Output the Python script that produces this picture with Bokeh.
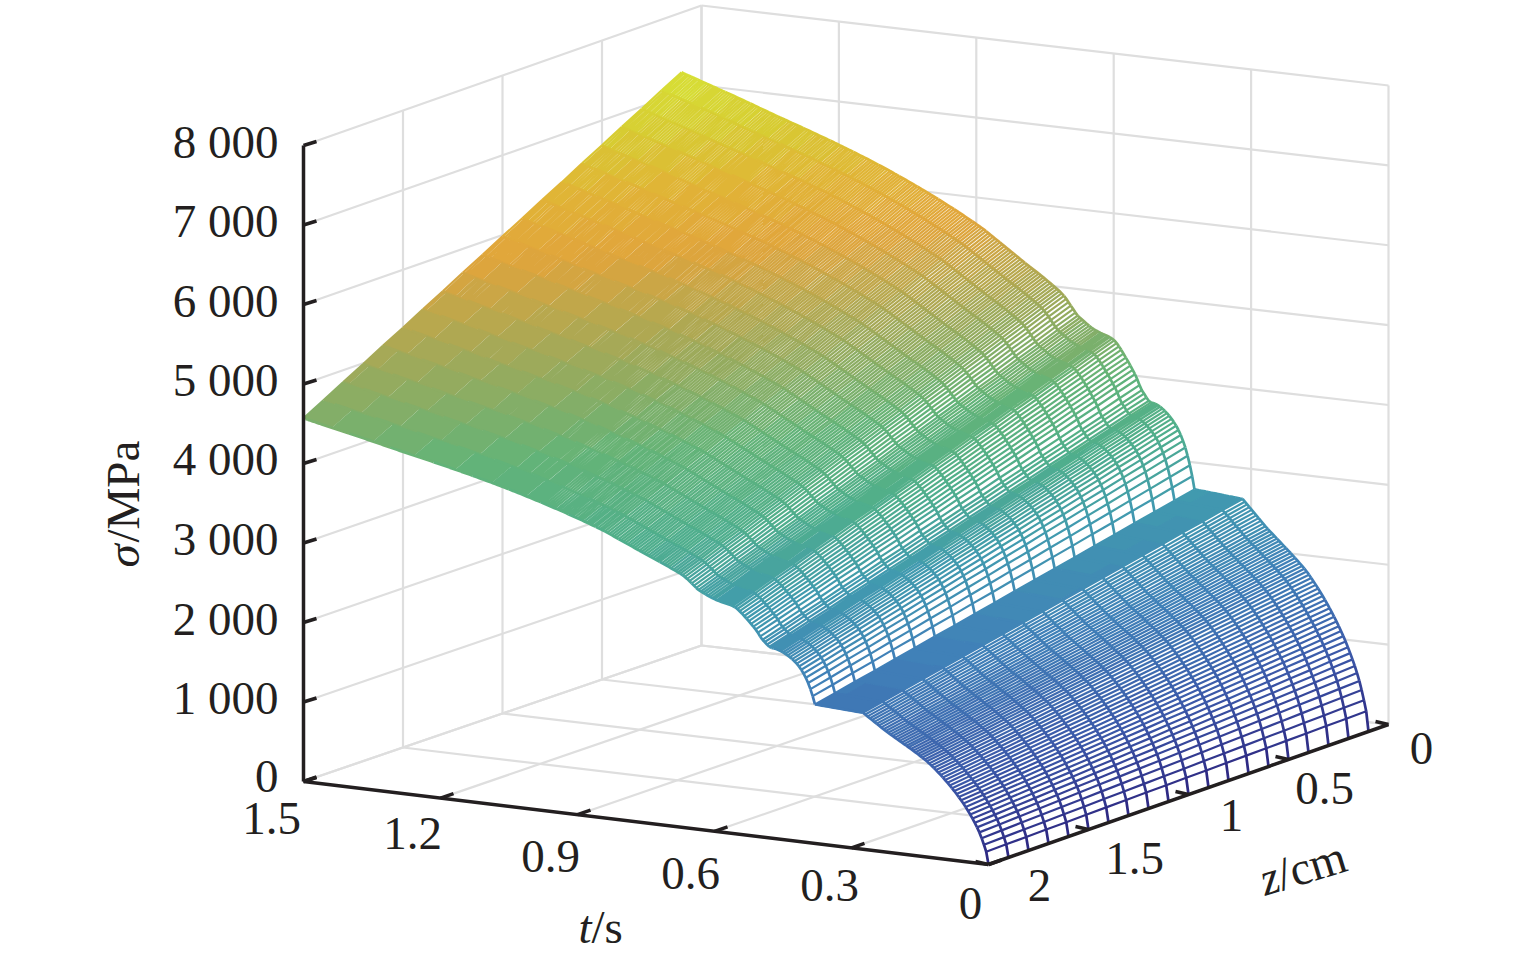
import numpy as np
from bokeh.plotting import figure
from bokeh.models import Range1d, ColumnDataSource
from bokeh.core.properties import value
from bokeh.embed import file_html
from bokeh.resources import INLINE

# ---- data ----
t_step = 0.005
z_values = [0.1,0.2,0.3,0.4,0.5,0.6,0.7,0.8,0.9,1.0,1.1,1.2,1.3,1.4,1.5,1.6,1.7,1.8,1.9,2.0]
# share of the z=0.1 stress that each depth carries
z_share = [1.000,.981,.961,.942,.922,.903,.883,.864,.844,.825,.805,.786,.766,.747,.727,.708,.688,.669,.649,.630]
# stress at z=0.1 cm for every time row
sigma_surface = [
0,250,385,510,620,715,800,880,955,1025,1095,1158,1218,1276,1332,1386,1438,1488,1537,1584,
1630,1675,1718,1760,1800,1840,1878,1914,1946,1977,2007,2037,2066,2094,2122,2149,2175,2202,2229,2256,
2283,2310,2337,2364,2391,2420,2451,2482,2513,2544,2575,2606,2637,2668,2699,2730,2732,2735,2737,2739,
2742,2744,2747,2749,2752,2754,2756,2759,2761,2763,2766,2768,2771,2773,2775,2778,2780,2940,3075,3190,
3290,3370,3440,3500,3550,3592,3630,3664,3694,3720,3744,3764,3780,3792,3800,3805,3822,3860,3905,3945,
4005,4075,4135,4185,4235,4285,4330,4375,4420,4460,4498,4528,4548,4562,4573,4583,4592,4602,4613,4625,
4640,4656,4674,4695,4718,4740,4762,4785,4820,4860,4900,4940,4978,5012,5040,5066,5088,5110,5131,5152,
5173,5194,5214,5234,5254,5273,5292,5310,5328,5348,5368,5388,5408,5428,5448,5468,5488,5508,5528,5548,
5568,5588,5608,5628,5648,5668,5688,5708,5728,5745,5762,5778,5795,5811,5827,5843,5859,5875,5891,5906,
5922,5937,5952,5967,5982,5997,6012,6026,6041,6055,6069,6083,6097,6111,6125,6139,6152,6166,6179,6193,
6206,6219,6232,6245,6258,6271,6284,6296,6309,6321,6334,6346,6358,6370,6382,6394,6406,6418,6429,6441,
6452,6463,6474,6485,6496,6507,6518,6529,6539,6550,6561,6571,6582,6592,6603,6613,6623,6634,6644,6654,
6664,6674,6684,6694,6704,6714,6724,6734,6744,6753,6763,6773,6782,6792,6802,6811,6821,6830,6840,6850,
6860,6870,6880,6891,6901,6911,6921,6932,6942,6952,6962,6972,6982,6992,7002,7012,7022,7032,7042,7051,
7060,7070,7079,7089,7098,7108,7117,7127,7137,7146,7156,7165,7175,7185,7194,7204,7213,7223,7232,7242,
7252]
sigma_ticks = [0,1000,2000,3000,4000,5000,6000,7000,8000]
sigma_labels = ["0","1 000","2 000","3 000","4 000","5 000","6 000","7 000","8 000"]
t_ticks = [0,0.3,0.6,0.9,1.2,1.5]
t_labels = ["0","0.3","0.6","0.9","1.2","1.5"]
z_ticks = [0,0.5,1,1.5,2]
z_labels = ["0","0.5","1","1.5","2"]

# ---- colour map ----
cmap_sigma = [0,1000,2000,2800,3500,4200,5000,5800,6300,6800,7300]
cmap_r = [46,60,65,65,80,100,160,225,225,215,215]
cmap_g = [40,90,130,155,175,180,170,165,180,205,228]
cmap_b = [130,170,185,175,140,120,90,60,55,50,55]
levels = 64
sigma_max = 7300.0
def level_of(s):
    return np.clip((np.asarray(s) / sigma_max * levels).astype(int), 0, levels - 1)
def level_colour(k):
    s = (k + 0.5) / levels * sigma_max
    return "#%02x%02x%02x" % (int(np.interp(s, cmap_sigma, cmap_r)),
                              int(np.interp(s, cmap_sigma, cmap_g)),
                              int(np.interp(s, cmap_sigma, cmap_b)))

# ---- 3-D view: corners of the box on the page ----
C = {"t0z2": (988, 864, 635), "t15z2": (303, 781, 636),
     "t0z0": (1388, 724, 639), "t15z0": (701, 645, 640)}
def project(t, z, s):
    t = np.asarray(t, float); z = np.asarray(z, float); s = np.asarray(s, float)
    a = t / 1.5; b = z / 2.0
    def blend(k):
        return ((1-a)*(1-b)*C["t0z0"][k] + a*(1-b)*C["t15z0"][k]
                + (1-a)*b*C["t0z2"][k] + a*b*C["t15z2"][k])
    return blend(0), blend(1) - s / 8000.0 * blend(2)

p = figure(width=1530, height=960, x_range=Range1d(0, 1530), y_range=Range1d(960, 0),
           output_backend="svg", toolbar_location=None, min_border=0,
           background_fill_color="white", border_fill_color="white", outline_line_color=None)
p.axis.visible = False
p.grid.visible = False

# ---- walls and floor ----
gx, gy = [], []
def seg(t0, z0, s0, t1, z1, s1):
    x, y = project([t0, t1], [z0, z1], [s0, s1])
    gx.append(list(x)); gy.append(list(y))
for s in sigma_ticks:
    seg(1.5, 2, s, 1.5, 0, s)
    seg(1.5, 0, s, 0, 0, s)
for t in t_ticks:
    seg(t, 0, 0, t, 0, 8000)
    seg(t, 0, 0, t, 2, 0)
for z in z_ticks:
    seg(1.5, z, 0, 1.5, z, 8000)
    seg(0, z, 0, 1.5, z, 0)
p.multi_line(gx, gy, line_color="#dedede", line_width=2.2)

# ---- surface ----
S = np.asarray(sigma_surface, float)
T = np.arange(len(S)) * t_step
Z = np.asarray(z_values)
share = np.asarray(z_share)
grid_s = np.outer(S, share)
grid_t = np.repeat(T[:, None], len(Z), axis=1)
grid_z = np.repeat(Z[None, :], len(T), axis=0)
PX, PY = project(grid_t, grid_z, grid_s)

ox = np.concatenate([PX[:, -1], PX[-1, ::-1], PX[::-1, 0], PX[0, :]])
oy = np.concatenate([PY[:, -1], PY[-1, ::-1], PY[::-1, 0], PY[0, :]])
p.patch(list(ox), list(oy), fill_color="white", line_color=None)

row_lv = level_of((grid_s[:, :-1] + grid_s[:, 1:]) / 2)
col_lv = level_of((grid_s[:-1, :] + grid_s[1:, :]) / 2)
row_w, col_w = 2.2, 2.7
xs, ys, cs, ws = [], [], [], []
def group(mask_i, mask_j, x0, y0, x1, y1):
    n = len(mask_i)
    out_x = np.empty(n * 3); out_y = np.empty(n * 3)
    out_x[0::3] = x0[mask_i, mask_j]; out_x[1::3] = x1[mask_i, mask_j]; out_x[2::3] = np.nan
    out_y[0::3] = y0[mask_i, mask_j]; out_y[1::3] = y1[mask_i, mask_j]; out_y[2::3] = np.nan
    return out_x[:-1], out_y[:-1]
for k in range(levels - 1, -1, -1):
    i, j = np.nonzero(row_lv == k)
    if len(i):
        a, b = group(i, j, PX[:, :-1], PY[:, :-1], PX[:, 1:], PY[:, 1:])
        xs.append(a); ys.append(b); cs.append(level_colour(k)); ws.append(row_w)
    i, j = np.nonzero(col_lv == k)
    if len(i):
        a, b = group(i, j, PX[:-1, :], PY[:-1, :], PX[1:, :], PY[1:, :])
        xs.append(a); ys.append(b); cs.append(level_colour(k)); ws.append(col_w)
src = ColumnDataSource(dict(xs=xs, ys=ys, c=cs, w=ws))
p.multi_line("xs", "ys", source=src, line_color="c", line_width="w", line_cap="butt")

# ---- axes ----
INK = "#231f20"
ax, ay = [], []
def axis_seg(t0, z0, s0, t1, z1, s1):
    x, y = project([t0, t1], [z0, z1], [s0, s1])
    ax.append(list(x)); ay.append(list(y))
axis_seg(1.5, 2, 0, 1.5, 2, 8000)
axis_seg(1.5, 2, 0, 0, 2, 0)
axis_seg(0, 2, 0, 0, 0, 0)
for s in sigma_ticks:
    x, y = project(1.5, 2, s)
    ax.append([float(x), float(x) + 13]); ay.append([float(y), float(y) - 4])
for t in t_ticks:
    x, y = project(t, 2, 0)
    ax.append([float(x), float(x) + 13]); ay.append([float(y), float(y) - 4.5])
for z in z_ticks:
    x, y = project(0, z, 0)
    ax.append([float(x), float(x) - 13]); ay.append([float(y), float(y) - 3])
p.multi_line(ax, ay, line_color=INK, line_width=3.5)

FS = "47px"
def label(x, y, txt, align="center", base="middle", angle=0.0, style="normal"):
    p.text([x], [y], text=[txt], text_font=value("Liberation Serif"), text_font_size=FS,
           text_font_style=style, text_color=INK, text_align=align, text_baseline=base, angle=angle)

sigma_label_y = [776, 697, 618, 538, 458, 379, 300, 220, 141]
for lab, yy in zip(sigma_labels, sigma_label_y):
    label(278, yy, lab, align="right")
t_label_xy = [(970, 903), (829, 885), (690, 873), (550, 856), (412, 833), (271, 818)]
for lab, (xx, yy) in zip(t_labels, t_label_xy):
    label(xx, yy, lab)
z_label_xy = [(1421, 748), (1324, 788), (1231, 815), (1134, 858), (1039, 885)]
for lab, (xx, yy) in zip(z_labels, z_label_xy):
    label(xx, yy, lab)

label(122, 567, "σ", align="left", base="alphabetic", angle=np.pi/2, style="italic")
label(122, 542, "/MPa", align="left", base="alphabetic", angle=np.pi/2)
label(578, 926, "t", align="left", base="alphabetic", style="italic")
label(591, 926, "/s", align="left", base="alphabetic")
rot = np.deg2rad(17)
label(1260, 880, "z", align="left", base="alphabetic", angle=rot, style="italic")
label(1277, 875, "/cm", align="left", base="alphabetic", angle=rot)

open("out.html", "w").write(file_html(p, INLINE))
